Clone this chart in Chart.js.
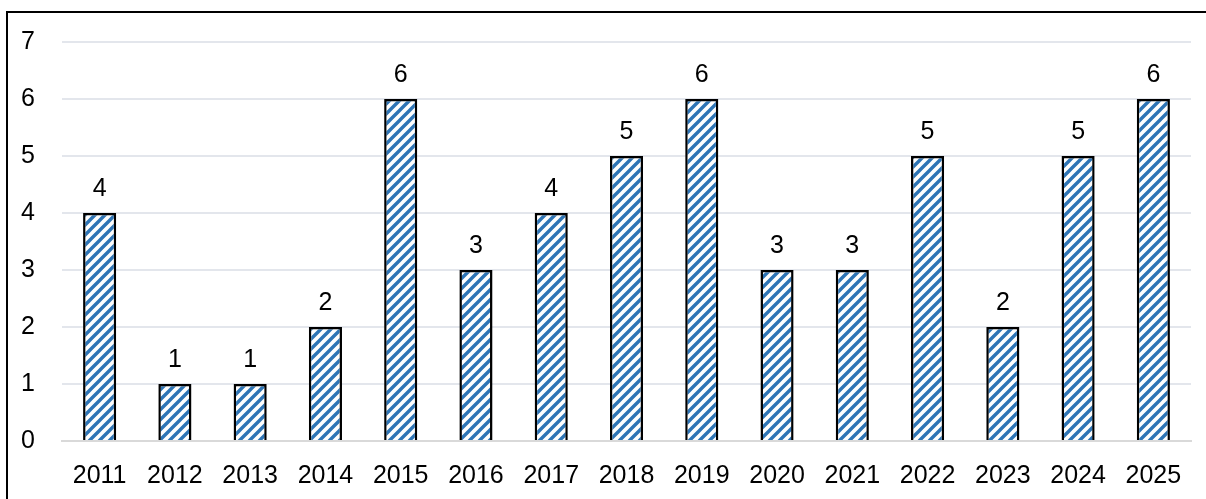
<!DOCTYPE html>
<html>
<head>
<meta charset="utf-8">
<script src="https://cdn.jsdelivr.net/npm/chart.js@4"></script>
<style>
  html, body { margin: 0; padding: 0; background: #fff; }
  #wrap { width: 1206px; height: 499px; position: relative; }
</style>
</head>
<body>
<div id="wrap"><canvas id="yearChart" width="1206" height="499"></canvas></div>
<script>
// Counts per year
const years = ['2011', '2012', '2013', '2014', '2015', '2016', '2017', '2018', '2019', '2020', '2021', '2022', '2023', '2024', '2025'];
const counts = [4, 1, 1, 2, 6, 3, 4, 5, 6, 3, 3, 5, 2, 5, 6];
const yTicks = [0, 1, 2, 3, 4, 5, 6, 7];

const FONT = '"Liberation Sans", Arial, sans-serif';

// Diagonal blue hatch for the bars
function makeHatch() {
  const size = 10;
  const c = document.createElement('canvas');
  c.width = size;
  c.height = size;
  const g = c.getContext('2d');
  g.fillStyle = '#fff';
  g.fillRect(0, 0, size, size);
  g.strokeStyle = '#2E75B6';
  g.lineWidth = 3.4;
  g.beginPath();
  g.moveTo(-3, size + 3); g.lineTo(size + 3, -3);
  g.moveTo(-3, 3); g.lineTo(3, -3);
  g.moveTo(size - 3, size + 3); g.lineTo(size + 3, size - 3);
  g.stroke();
  return g.createPattern(c, 'repeat');
}

// Outer frame and value labels
const framePlugin = {
  id: 'frame',
  afterDraw(chart) {
    const ctx = chart.ctx;
    ctx.save();
    ctx.strokeStyle = '#000';
    ctx.lineWidth = 2;
    ctx.beginPath();
    ctx.moveTo(7, chart.height + 2);
    ctx.lineTo(7, 12);
    ctx.lineTo(chart.width + 2, 12);
    ctx.stroke();

    const meta = chart.getDatasetMeta(0);
    ctx.fillStyle = '#000';
    ctx.font = '25px ' + FONT;
    ctx.textAlign = 'center';
    ctx.textBaseline = 'alphabetic';
    meta.data.forEach((bar, i) => {
      ctx.fillText(String(counts[i]), bar.x, bar.y - 17);
    });
    ctx.restore();
  }
};

const ctx = document.getElementById('yearChart').getContext('2d');
new Chart(ctx, {
  type: 'bar',
  data: {
    labels: years,
    datasets: [{
      data: counts,
      backgroundColor: makeHatch(),
      borderColor: '#000',
      borderWidth: 2.5,
      borderSkipped: 'bottom',
      barPercentage: 0.44,
      categoryPercentage: 1
    }]
  },
  options: {
    responsive: false,
    animation: false,
    layout: { padding: { top: 41, right: 15, left: 0, bottom: 0 } },
    plugins: {
      legend: { display: false },
      tooltip: { enabled: false }
    },
    scales: {
      x: {
        grid: { display: false, drawTicks: false },
        border: { display: true, color: '#D9D9D9', width: 2 },
        ticks: { color: '#000', font: { family: FONT, size: 25 }, padding: 20, maxRotation: 0 },
        afterFit(scale) { scale.height = 58; }
      },
      y: {
        min: 0,
        max: 7,
        afterBuildTicks(scale) { scale.ticks = yTicks.map(v => ({ value: v })); },
        grid: { color: '#E3E6EC', lineWidth: 2, drawTicks: false },
        border: { display: false },
        ticks: { color: '#000', font: { family: FONT, size: 25 }, padding: 27 },
        afterFit(scale) { scale.width = 62; }
      }
    }
  },
  plugins: [framePlugin]
});
</script>
</body>
</html>
